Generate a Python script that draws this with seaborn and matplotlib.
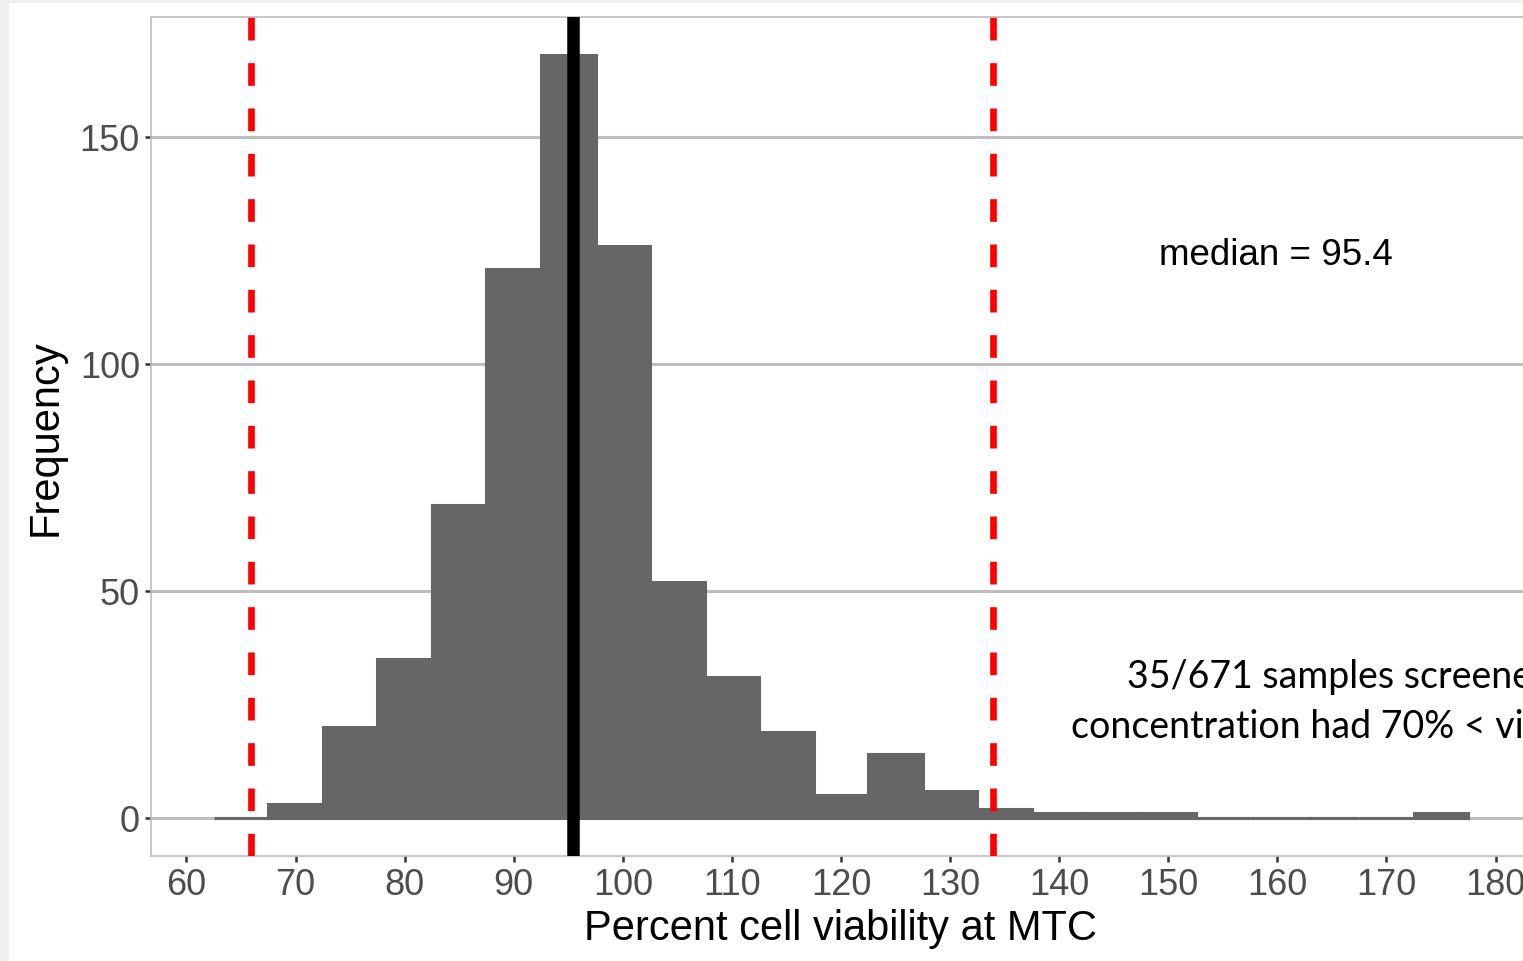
import matplotlib
matplotlib.use("Agg")
import matplotlib.pyplot as plt
import matplotlib.patches as mpatches
import seaborn as sns
import numpy as np
import pandas as pd

# ---- data ----
bin_left_edges = [62.5, 67.5, 72.5, 77.5, 82.5, 87.5, 92.5, 97.5, 102.5, 107.5, 112.5,
                  117.5, 122.5, 127.5, 132.5, 137.5, 142.5, 147.5, 152.5, 157.5,
                  162.5, 167.5, 172.5]
bin_counts = [0, 3, 20, 35, 69, 121, 168, 126, 52, 31, 19,
              5, 14, 6, 2, 1, 1, 1, 0, 0,
              0, 0, 1]
bin_width = 5
median_value = 95.4
lower_cut = 65.9
upper_cut = 133.9
x_ticks = [60, 70, 80, 90, 100, 110, 120, 130, 140, 150, 160, 170, 180]
y_ticks = [0, 50, 100, 150]
x_title = "Percent cell viability at MTC"
y_title = "Frequency"
median_label = "median = 95.4"
note_line1 = "35/671 samples screened at the maximum tested"
note_line2 = "concentration had 70% < viability < 130%"

sns.set_theme(style="white")
plt.rcParams['font.family'] = ['Liberation Sans', 'DejaVu Sans']

df = pd.DataFrame({
    "center": np.array(bin_left_edges) + bin_width / 2,
    "count": bin_counts,
})

W, H = 1523, 962
fig = plt.figure(figsize=(W / 100, H / 100), dpi=100)
fig.patch.set_facecolor('#eff0f1')
fig.add_artist(mpatches.Rectangle((9 / W, 0), 1, 1 - 4 / H, transform=fig.transFigure,
                                  facecolor='white', edgecolor='none', zorder=-10))

left_px, right_px, top_px, bot_px = 151, 1531, 18, 857
ax = fig.add_axes([left_px / W, (H - bot_px) / H, (right_px - left_px) / W, (bot_px - top_px) / H])
ax.set_facecolor('white')

lo = bin_left_edges[0]
hi = bin_left_edges[-1] + bin_width
sns.histplot(data=df, x="center", weights="count", binwidth=bin_width, binrange=(lo, hi),
             color='#666666', edgecolor='#666666', linewidth=2.2, alpha=1, ax=ax, zorder=2)

# ggplot-like expansion
xr = hi - lo
ax.set_xlim(lo - 0.05 * xr, hi + 0.05 * xr)
ymax = max(bin_counts)
ax.set_ylim(-0.05 * ymax, ymax * 1.05)

ax.axvline(lower_cut, color='#ff0000', linewidth=4.8, dashes=(3.4, 3.4), zorder=3)
ax.axvline(upper_cut, color='#ff0000', linewidth=4.8, dashes=(3.4, 3.4), zorder=3)
ax.axvline(median_value, color='black', linewidth=9, zorder=4)

ax.set_xticks(x_ticks)
ax.set_yticks(y_ticks)
ax.grid(False)
ax.yaxis.grid(True, color='#bebebe', linewidth=2.2, zorder=0)
ax.set_axisbelow(True)
for s in ax.spines.values():
    s.set_color('#bebebe')
    s.set_linewidth(1.2)
ax.tick_params(axis='both', which='major', direction='out', length=4, width=1.8,
               color='#333333', labelcolor='#4d4d4d', labelsize=26, pad=4,
               bottom=True, left=True)

ax.set_xlabel(x_title, fontsize=30, color='black', labelpad=4)
ax.set_ylabel(y_title, fontsize=30, color='black', labelpad=10)

ax.text(159.9, 121.9, median_label, fontsize=26.5, color='black', ha='center', va='baseline')
ax.text(146.2, 28.9, note_line1, fontsize=27, color='black', ha='left', va='baseline',
        family=['Lato', 'DejaVu Sans'])
ax.text(141.1, 17.8, note_line2, fontsize=27, color='black', ha='left', va='baseline',
        family=['Lato', 'DejaVu Sans'])

fig.savefig("out.png", dpi=100, facecolor=fig.get_facecolor())
